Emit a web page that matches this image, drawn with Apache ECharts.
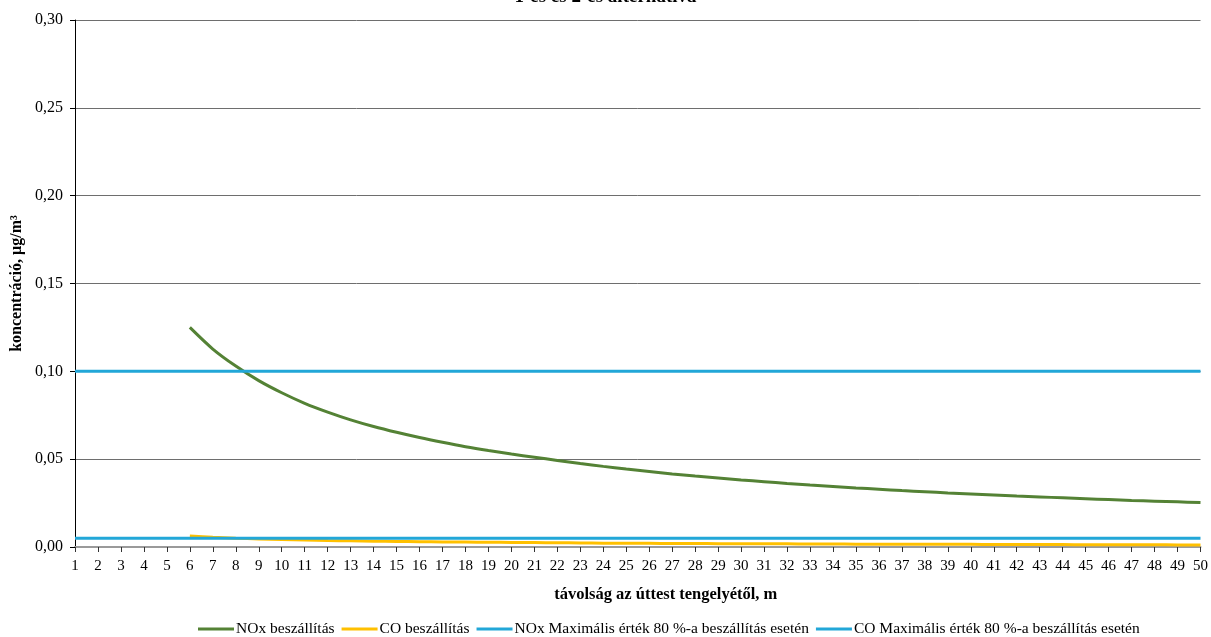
<!DOCTYPE html>
<html>
<head>
<meta charset="utf-8">
<script src="https://cdn.jsdelivr.net/npm/echarts@6/dist/echarts.min.js"></script>
<style>html,body{margin:0;padding:0;background:#fff}#c{width:1211px;height:637px}</style>
</head>
<body>
<div id="c"></div>
<script>
const titleText = '1-es és 2-es alternatíva';
const xAxisName = 'távolság az úttest tengelyétől, m';
const yAxisName = 'koncentráció, µg/m³';
const categories = ['1','2','3','4','5','6','7','8','9','10','11','12','13','14','15','16','17','18','19','20','21','22','23','24','25','26','27','28','29','30','31','32','33','34','35','36','37','38','39','40','41','42','43','44','45','46','47','48','49','50'];
const noxValues = [null,null,null,null,null,
  0.1250,0.1127,0.1030,0.0947,0.0878,0.0818,0.0768,0.0724,0.0686,0.0653,
  0.0623,0.0596,0.0571,0.0549,0.0529,0.0511,0.0493,0.0475,0.0459,0.0444,
  0.0430,0.0416,0.0404,0.0393,0.0382,0.0372,0.0362,0.0353,0.0345,0.0336,
  0.0329,0.0321,0.0315,0.0308,0.0302,0.0296,0.0290,0.0285,0.0280,0.0275,
  0.0270,0.0265,0.0261,0.0257,0.0253];
const coValues = [null,null,null,null,null,
  0.0062,0.0055,0.0050,0.0046,0.0042,0.0040,0.0037,0.0035,0.0033,0.0032,
  0.0030,0.0029,0.0028,0.0027,0.0026,0.0025,0.0024,0.0023,0.0022,0.0022,
  0.0021,0.0020,0.0020,0.0019,0.0019,0.0018,0.0018,0.0017,0.0017,0.0016,
  0.0016,0.0016,0.0015,0.0015,0.0015,0.0014,0.0014,0.0014,0.0014,0.0013,
  0.0013,0.0013,0.0013,0.0012,0.0012];
const noxLimit = 0.10;
const coLimit = 0.005;
const seriesNames = ['NOx beszállítás','CO beszállítás','NOx Maximális érték 80 %-a beszállítás esetén','CO Maximális érték 80 %-a beszállítás esetén'];

const font = '"Liberation Serif", "Times New Roman", serif';
const chart = echarts.init(document.getElementById('c'), null, {renderer:'canvas'});
const mk = (name, data, color, z, smooth) => ({
  name, type:'line', data, symbol:'none', smooth, z,
  lineStyle:{color, width:3}, itemStyle:{color}, connectNulls:false, animation:false
});
chart.setOption({
  animation:false,
  textStyle:{fontFamily:font},
  title:{text:titleText, left:'center', top:-17,
    textStyle:{fontFamily:font, fontSize:19, fontWeight:'bold', color:'#000'}},
  grid:{left:75, right:9, top:20, bottom:90, containLabel:false},
  legend:{bottom:-5, left:193, icon:'rect', itemWidth:36, itemHeight:3, itemGap:7,
    textStyle:{fontFamily:font, fontSize:15.5, color:'#000', padding:[0,0,0,-3]},
    data:seriesNames},
  xAxis:{type:'category', data:categories, boundaryGap:false,
    name:xAxisName, nameLocation:'middle', nameGap:39,
    nameTextStyle:{fontFamily:font, fontSize:16.5, fontWeight:'bold', color:'#000', padding:[0,0,0,56]},
    axisLine:{lineStyle:{color:'#9a9a9a', width:2}},
    axisTick:{alignWithLabel:true, interval:0, length:5, lineStyle:{color:'#333'}},
    axisLabel:{interval:0, fontFamily:font, fontSize:15, color:'#000', margin:12},
    splitLine:{show:false}},
  yAxis:{type:'value', min:0, max:0.30, interval:0.05,
    name:yAxisName, nameLocation:'middle', nameGap:50, nameMoveOverlap:false,
    nameTextStyle:{fontFamily:font, fontSize:16, fontWeight:'bold', color:'#000'},
    axisLine:{show:true, lineStyle:{color:'#000', width:1}},
    axisTick:{show:true, length:5, lineStyle:{color:'#000'}},
    axisLabel:{fontFamily:font, fontSize:16, color:'#000', margin:12,
      formatter:v => v.toFixed(2).replace('.', ',')},
    splitLine:{show:true, lineStyle:{color:'#6e6e6e', width:1}}},
  series:[
    mk(seriesNames[0], noxValues, '#548235', 3, 0.3),
    mk(seriesNames[1], coValues, '#FFC000', 4, 0.3),
    mk(seriesNames[2], categories.map(() => noxLimit), '#22A7D8', 5, false),
    mk(seriesNames[3], categories.map(() => coLimit), '#22A7D8', 6, false)
  ]
});
</script>
</body>
</html>
